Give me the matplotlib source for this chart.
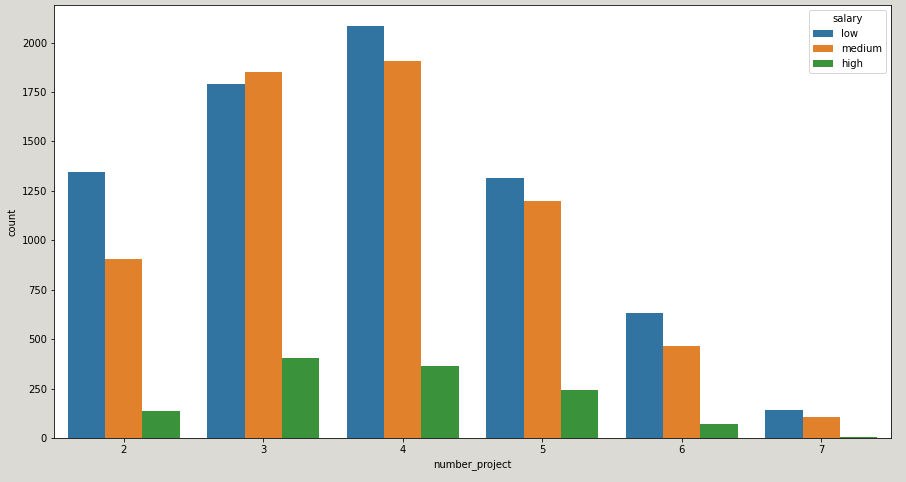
import numpy as np
import pandas as pd
import seaborn as sns
import matplotlib
matplotlib.use('Agg')
import matplotlib.pyplot as plt

number_project = [2, 3, 4, 5, 6, 7]
salary_levels = ['low', 'medium', 'high']
count_low = [1343, 1793, 2086, 1313, 631, 141]
count_medium = [904, 1853, 1909, 1197, 465, 106]
count_high = [136, 404, 364, 242, 71, 5]


def main():
    rows = []
    for level, counts in zip(salary_levels, [count_low, count_medium, count_high]):
        for p, c in zip(number_project, counts):
            rows.append({'number_project': p, 'salary': level, 'count': c})
    df = pd.DataFrame(rows)

    fig = plt.figure(figsize=(906 / 72, 482 / 72), dpi=72, facecolor='#dcdad5')
    ax = fig.add_axes([0.0596, 0.0913, 0.9238, 0.8983])
    sns.barplot(data=df, x='number_project', y='count', hue='salary',
                hue_order=salary_levels, ax=ax, saturation=0.75)
    ax.set_ylim(0, 2190)
    ax.legend(title='salary', loc='upper right')

    fig.savefig('out.png', dpi=72, facecolor=fig.get_facecolor())
    return


if __name__ == '__main__':
    main()
